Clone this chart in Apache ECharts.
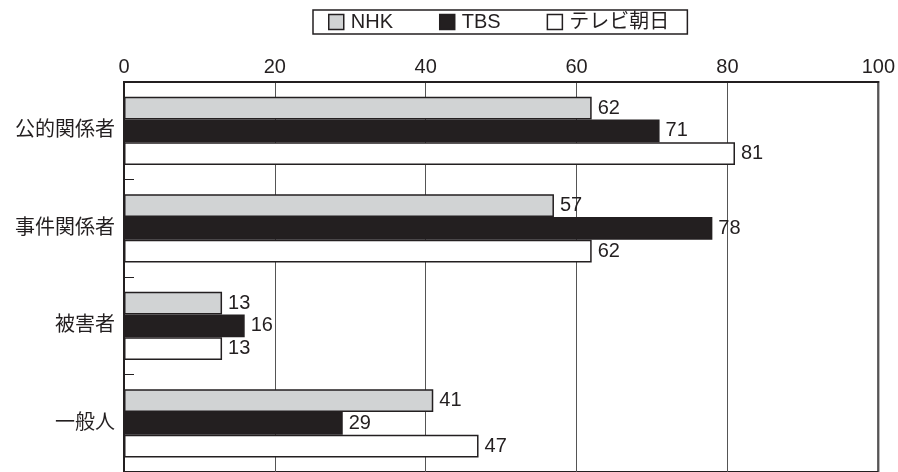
<!DOCTYPE html>
<html><head><meta charset="utf-8">
<script src="https://cdn.jsdelivr.net/npm/echarts@6/dist/echarts.min.js"></script>
<style>html,body{margin:0;padding:0;background:#fff}#c{width:898px;height:472px}</style>
</head><body><div id="c"></div>
<script>
const categories = ['公的関係者', '事件関係者', '被害者', '一般人'];
const seriesNames = ['NHK', 'TBS', 'テレビ朝日'];
const nhk = [62, 57, 13, 41];
const tbs = [71, 78, 16, 29];
const tvAsahi = [81, 62, 13, 47];
const xTicks = [0, 20, 40, 60, 80, 100];

const FONT = '"Liberation Sans", Arial, "Noto Sans CJK JP", sans-serif';
const colors = ['#d1d3d4', '#231f20', '#ffffff'];
const chart = echarts.init(document.getElementById('c'));
const mk = (name, data, color) => ({
  name, type: 'bar', data, barGap: '0%', barCategoryGap: '30%',
  itemStyle: { color, borderColor: '#231f20', borderWidth: 1.5 },
  label: { show: true, position: 'right', distance: 6, fontSize: 20, color: '#231f20', fontFamily: FONT },
  silent: true
});
chart.setOption({
  animation: false,
  textStyle: { fontFamily: FONT },
  legend: {
    top: 10, left: 313,
    data: seriesNames,
    itemWidth: 15, itemHeight: 15, itemGap: 46,
    padding: [2, 18, 2, 15],
    borderColor: '#231f20', borderWidth: 1.5,
    textStyle: { fontSize: 20, color: '#231f20', fontFamily: FONT, padding: [0, 0, 0, 2] },
    icon: 'rect',
    itemStyle: { borderColor: '#231f20', borderWidth: 1.5 }
  },
  grid: { left: 124, right: 18, top: 82, bottom: -2, show: true, borderColor: '#231f20', borderWidth: 2, containLabel: false },
  xAxis: {
    type: 'value', position: 'top', min: xTicks[0], max: xTicks[xTicks.length - 1], interval: 20,
    axisLine: { show: true, lineStyle: { color: '#231f20', width: 2 } },
    axisTick: { show: false },
    splitLine: { show: true, lineStyle: { color: '#555', width: 1 } },
    axisLabel: { fontSize: 20, color: '#231f20', margin: 5, fontFamily: FONT }
  },
  yAxis: {
    type: 'category', data: categories, inverse: true,
    axisLine: { show: true, lineStyle: { color: '#231f20', width: 2 } },
    axisTick: { show: true, inside: true, length: 10, lineStyle: { color: '#231f20', width: 1 } },
    axisLabel: { fontSize: 20, color: '#231f20', margin: 9, fontFamily: FONT }
  },
  series: [mk(seriesNames[0], nhk, colors[0]), mk(seriesNames[1], tbs, colors[1]), mk(seriesNames[2], tvAsahi, colors[2])]
});
</script></body></html>
